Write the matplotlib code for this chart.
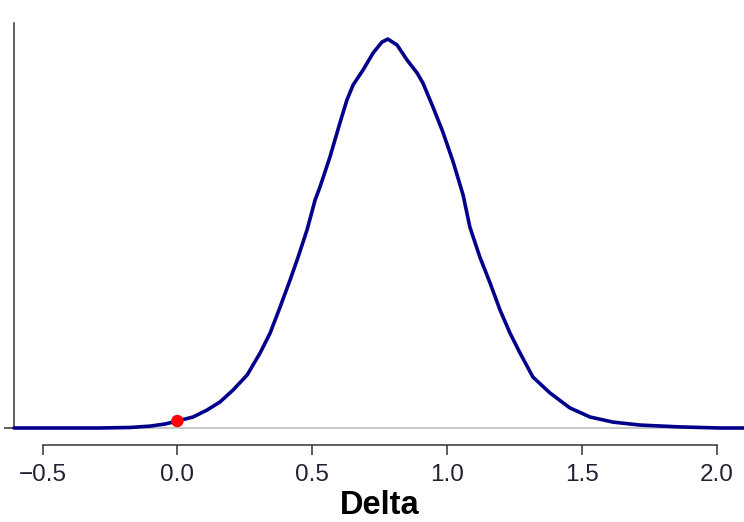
import matplotlib
matplotlib.use("Agg")
import matplotlib.pyplot as plt

# posterior density of Delta
delta = [-0.606, -0.287, -0.175, -0.101, -0.045, 0.0, 0.058, 0.110, 0.158, 0.207,
         0.259, 0.307, 0.344, 0.381, 0.418, 0.448, 0.481, 0.511, 0.529, 0.566,
         0.603, 0.629, 0.652, 0.689, 0.726, 0.759, 0.781, 0.815, 0.852, 0.889,
         0.911, 0.948, 0.985, 1.023, 1.060, 1.085, 1.122, 1.160, 1.197, 1.234,
         1.271, 1.319, 1.382, 1.456, 1.531, 1.616, 1.716, 1.865, 2.013, 2.102]
density = [0.0, 0.0, 0.002, 0.007, 0.015, 0.026, 0.041, 0.067, 0.097, 0.142,
           0.198, 0.280, 0.354, 0.451, 0.552, 0.638, 0.739, 0.851, 0.899, 1.011,
           1.138, 1.224, 1.280, 1.336, 1.399, 1.440, 1.451, 1.429, 1.373, 1.325,
           1.287, 1.198, 1.104, 0.993, 0.869, 0.750, 0.638, 0.541, 0.440, 0.354,
           0.280, 0.190, 0.131, 0.075, 0.041, 0.022, 0.011, 0.004, 0.0, 0.0]
point_x = [0.0]
point_y = [0.026]
xticks = [-0.5, 0.0, 0.5, 1.0, 1.5, 2.0]

plt.rcParams["font.family"] = ["Liberation Sans", "DejaVu Sans"]

W, H = 744, 522
fig = plt.figure(figsize=(W / 100, H / 100), dpi=100)
ax = fig.add_axes([14 / W, (H - 428) / H, (W - 14) / W, (428 - 23) / H])

ax.axhline(0, color="#bdbdbd", lw=1.2, zorder=1, clip_on=False)
ax.plot(delta, density, color="#00008B", lw=2.6, clip_on=False, zorder=3,
        solid_capstyle="round", solid_joinstyle="round")
ax.scatter(point_x, point_y, s=80, color="#ff0000", zorder=4, clip_on=False,
           edgecolors="none")

ax.set_xlim(-0.606, 2.102)
ax.set_ylim(0, 1.511)

for side in ("top", "right"):
    ax.spines[side].set_visible(False)
ax.spines["left"].set_color("#333333")
ax.spines["left"].set_linewidth(1.1)
ax.spines["bottom"].set_color("#333333")
ax.spines["bottom"].set_linewidth(1.1)
ax.spines["bottom"].set_position(("outward", 12.2))
ax.spines["bottom"].set_bounds(-0.5, 2.0)

ax.set_yticks([0])
ax.set_yticklabels([])
ax.set_xticks(xticks)
ax.set_xticklabels([f"{t:.1f}".replace("-", "\u2212") for t in xticks])
ax.tick_params(axis="both", length=7.2, width=1.1, color="#333333")
ax.tick_params(axis="x", labelsize=17.5, pad=6.5, labelcolor="#1f2233")

fig.text(380 / W, 1 - 506 / H, "Delta", ha="center", va="center",
         fontsize=23.5, fontweight="bold")

fig.savefig("out.png", dpi=100)
